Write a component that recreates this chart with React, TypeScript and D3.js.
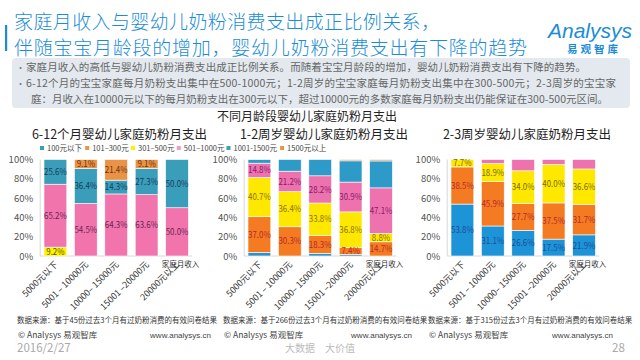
import React from "react";
import * as d3 from "d3";

// ---------- data ----------
const incomeGroups = ["5000元以下", "5001 – 10000元", "10000– 15000元", "15001 –20000元", "20000元以上"];
const yTicks = [0, 20, 40, 60, 80, 100];

const legendItems = ["100元以下", "101–300元", "301–500元", "501–1000元", "1001-1500元", "1500元以上"];
const legendColors = ["#3a9dba", "#ea9245", "#fff200", "#f39ac2", "#3aa2b4", "#ea9245"];

// 6-12 months (bottom -> top)
const m6Yellow = [9.2, 0, 0, 0, 0];
const m6Pink = [65.2, 54.5, 64.3, 63.6, 50.0];
const m6Teal = [25.6, 36.4, 14.3, 27.3, 50.0];
const m6Orange = [0, 9.1, 21.4, 9.1, 0];

// 1-2 years (bottom -> top)
const y1Blue = [3.7, 0, 2.8, 1.5, 0];
const y1Orange = [37.0, 30.3, 18.3, 7.4, 14.7];
const y1Yellow = [40.7, 36.4, 33.8, 36.8, 8.8];
const y1Pink = [14.8, 21.2, 28.2, 30.9, 47.1];
const y1Teal = [3.7, 12.1, 16.9, 22.0, 27.9];
const y1Tan = [0, 0, 0, 1.4, 1.5];

// 2-3 years (bottom -> top)
const y2Blue = [53.8, 31.1, 26.6, 17.5, 21.9];
const y2Orange = [38.5, 45.9, 27.7, 37.5, 31.7];
const y2Yellow = [7.7, 18.9, 34.0, 40.0, 36.6];
const y2Pink = [0, 4.1, 11.7, 5.0, 9.8];

const chartTitles = ["6-12个月婴幼儿家庭奶粉月支出", "1-2周岁婴幼儿家庭奶粉月支出", "2-3周岁婴幼儿家庭奶粉月支出"];
const sourceNotes = [
  "数据来源：基于45份过去3个月有过奶粉消费的有效问卷结果",
  "数据来源：基于266份过去3个月有过奶粉消费的有效问卷结果",
  "数据来源：基于315份过去3个月有过奶粉消费的有效问卷结果",
];

const headline1 = "家庭月收入与婴幼儿奶粉消费支出成正比例关系，";
const headline2 = "伴随宝宝月龄段的增加，婴幼儿奶粉消费支出有下降的趋势";
const bullet1 = "家庭月收入的高低与婴幼儿奶粉消费支出成正比例关系。而随着宝宝月龄段的增加，婴幼儿奶粉消费支出有下降的趋势。";
const bullet2 = "6-12个月的宝宝家庭每月奶粉支出集中在500-1000元；1-2周岁的宝宝家庭每月奶粉支出集中在300-500元；2-3周岁的宝宝家";
const bullet3 = "庭：月收入在10000元以下的每月奶粉支出在300元以下，超过10000元的多数家庭每月奶粉支出仍能保证在300-500元区间。";
const subTitle = "不同月龄段婴幼儿家庭奶粉月支出";

type Series = { key: string; values: number[]; color: string; text: string; label: boolean };

const chartSeries: Series[][] = [
  [
    { key: "a", values: m6Yellow, color: "#fff200", text: "#5e5400", label: true },
    { key: "b", values: m6Pink, color: "#f274ad", text: "#6b2452", label: true },
    { key: "c", values: m6Teal, color: "#3a9dba", text: "#173f5a", label: true },
    { key: "d", values: m6Orange, color: "#ea9245", text: "#6e3510", label: true },
  ],
  [
    { key: "a", values: y1Blue, color: "#2794cf", text: "#173f6a", label: false },
    { key: "b", values: y1Orange, color: "#f47b22", text: "#b8282a", label: true },
    { key: "c", values: y1Yellow, color: "#ffe800", text: "#8a7400", label: true },
    { key: "d", values: y1Pink, color: "#ee72ae", text: "#8a1a6a", label: true },
    { key: "e", values: y1Teal, color: "#2e9ac8", text: "#173f6a", label: false },
    { key: "f", values: y1Tan, color: "#d9a070", text: "#6e3510", label: false },
  ],
  [
    { key: "a", values: y2Blue, color: "#1e94d8", text: "#1a4f9a", label: true },
    { key: "b", values: y2Orange, color: "#f47b22", text: "#b8282a", label: true },
    { key: "c", values: y2Yellow, color: "#ffe800", text: "#7a6a00", label: true },
    { key: "d", values: y2Pink, color: "#ee72ae", text: "#8a1a6a", label: false },
  ],
];

// ---------- layout ----------
const CJK = "'Noto Sans CJK SC', 'Noto Sans', sans-serif";
const plotStarts = [40.2, 244.2, 447.2];
const plotWidth = 152;
const yTop = 159.5;
const yBottom = 256;
const titleCenters = [119.5, 324, 527];
const sourceX = [17, 223, 428];
const wwwRight = [211, 412, 613];

function textWidth(s: string, fs: number) {
  let w = 0;
  for (const ch of s) w += /[\u3000-\u9fff\uff00-\uffef]/.test(ch) ? fs : fs * 0.52;
  return w;
}

function StackChart({ idx }: { idx: number }) {
  const series = chartSeries[idx];
  const x0 = plotStarts[idx];
  const x = d3
    .scaleBand<number>()
    .domain(incomeGroups.map((_, i) => i))
    .range([x0, x0 + plotWidth])
    .paddingInner(0.25)
    .paddingOuter(0.125);
  const y = d3.scaleLinear().domain([0, 100]).range([yBottom, yTop]);
  const rows = incomeGroups.map((_, i) => {
    const r: Record<string, number> = {};
    series.forEach((s) => (r[s.key] = s.values[i]));
    return r;
  });
  const stacked = d3.stack<Record<string, number>>().keys(series.map((s) => s.key))(rows);

  return (
    <g>
      <text x={titleCenters[idx]} y={138.5} textAnchor="middle" fontSize={12.5} fill="#222" fontFamily={CJK}>
        {chartTitles[idx]}
      </text>
      {yTicks.map((t) => (
        <text key={t} x={x0 - 7} y={y(t) + 3.5} textAnchor="end" fontSize={9.5} fill="#555" fontFamily={CJK}>
          {t}%
        </text>
      ))}
      <line x1={x0} x2={x0} y1={yTop} y2={yBottom} stroke="#d8d8d8" strokeWidth={1} />
      <line x1={x0} x2={x0 + plotWidth} y1={yBottom} y2={yBottom} stroke="#d8d8d8" strokeWidth={1} />
      {stacked.map((layer, li) => (
        <g key={layer.key}>
          {layer.map((d, i) =>
            d[1] - d[0] > 0 ? (
              <rect
                key={i}
                x={x(i)}
                y={y(d[1])}
                width={x.bandwidth()}
                height={y(d[0]) - y(d[1])}
                fill={series[li].color}
                stroke="#ffffff"
                strokeWidth={0.6}
              />
            ) : null
          )}
        </g>
      ))}
      {stacked.map((layer, li) =>
        series[li].label
          ? layer.map((d, i) =>
              d[1] - d[0] > 0 ? (
                <text
                  key={layer.key + i}
                  transform={`translate(${(x(i) as number) + x.bandwidth() / 2},${(y(d[0]) + y(d[1])) / 2 + 3.1}) scale(0.88,1)`}
                  textAnchor="middle"
                  fontSize={9}
                  fill={series[li].text}
                  fontFamily={CJK}
                >
                  {(d[1] - d[0]).toFixed(1)}%
                </text>
              ) : null
            )
          : null
      )}
      {incomeGroups.map((g, i) => {
        const cx = (x(i) as number) + x.bandwidth() / 2 + 3;
        return (
          <text key={g} transform={`translate(${cx},${265}) rotate(-45)`} textAnchor="end" fontSize={8.8} fill="#333" fontFamily={CJK}>
            {g}
          </text>
        );
      })}
      <text x={x0 + plotWidth + 7} y={267} textAnchor="end" fontSize={7.5} fill="#333" fontFamily={CJK}>
        家庭月收入
      </text>
      <text x={sourceX[idx]} y={323} fontSize={7.5} fill="#333" fontFamily={CJK}>
        {sourceNotes[idx]}
      </text>
      <text x={sourceX[idx] + 1} y={338} fontSize={8.5} fill="#444" fontFamily={CJK}>
        © Analysys 易观智库
      </text>
      <text x={wwwRight[idx]} y={338} textAnchor="end" fontSize={8} fill="#444" fontFamily="'Liberation Sans', Arial, sans-serif">
        www.analysys.cn
      </text>
    </g>
  );
}

function Legend() {
  const fs = 7.5;
  let cx = 42;
  const items = legendItems.map((t, i) => {
    const pos = cx;
    cx += 6 + textWidth(t, fs) + 5;
    return { t, pos, c: legendColors[i] };
  });
  return (
    <g>
      {items.map((it) => (
        <g key={it.t}>
          <rect x={it.pos - 2} y={146} width={4} height={4} fill={it.c} />
          <text x={it.pos + 5} y={150.5} fontSize={fs} fill="#444" fontFamily={CJK}>
            {it.t}
          </text>
        </g>
      ))}
    </g>
  );
}

export default function App() {
  return (
    <svg
      width={640}
      height={360}
      viewBox="0 0 640 360"
      style={{ position: "absolute", left: 0, top: 0, background: "#ffffff" }}
    >
      <rect x={0} y={0} width={640} height={360} fill="#ffffff" />
      {/* header */}
      <rect x={5} y={25} width={2.2} height={26} fill="#1b8dd8" />
      <text x={14} y={29} fontSize={19} fontWeight={300} fill="#1b8dd8" fontFamily={CJK} textLength={426} lengthAdjust="spacing">
        {headline1}
      </text>
      <text x={14} y={54.5} fontSize={19} fontWeight={300} fill="#1b8dd8" fontFamily={CJK} textLength={513} lengthAdjust="spacing">
        {headline2}
      </text>
      <text x={548} y={38} fontSize={21} fontStyle="italic" fill="#1b8dd8" fontFamily="'Liberation Sans', Arial, sans-serif">
        Analysys
      </text>
      <text x={567} y={53} fontSize={10.5} fontWeight={700} letterSpacing={3} fill="#1b8dd8" fontFamily={CJK}>
        易观智库
      </text>
      {/* info box */}
      <rect x={12} y={58} width={618} height={50} rx={4} fill="#e3e9ee" />
      <text x={16} y={71} fontSize={9} fill="#777" fontFamily={CJK}>•</text>
      <text x={16} y={87} fontSize={9} fill="#777" fontFamily={CJK}>•</text>
      <text x={26} y={71} fontSize={10.5} fill="#666" fontFamily={CJK} textLength={560} lengthAdjust="spacing">
        {bullet1}
      </text>
      <text x={26} y={87} fontSize={10.5} fill="#666" fontFamily={CJK} textLength={590} lengthAdjust="spacing">
        {bullet2}
      </text>
      <text x={31} y={102.5} fontSize={10.5} fill="#666" fontFamily={CJK} textLength={577} lengthAdjust="spacing">
        {bullet3}
      </text>
      <text x={307} y={121} textAnchor="middle" fontSize={12} fill="#222" fontFamily={CJK}>
        {subTitle}
      </text>
      <Legend />
      {[0, 1, 2].map((i) => (
        <StackChart key={i} idx={i} />
      ))}
      {/* footer */}
      <text x={17} y={352} fontSize={11.5} fill="#aaaaaa" fontFamily={CJK}>
        2016/2/27
      </text>
      <text x={285} y={352} fontSize={10} fill="#bbbbbb" fontFamily={CJK}>
        大数据
      </text>
      <text x={325} y={352} fontSize={10} fill="#bbbbbb" fontFamily={CJK}>
        大价值
      </text>
      <text x={612} y={352} fontSize={11.5} fill="#aaaaaa" fontFamily={CJK}>
        28
      </text>
    </svg>
  );
}
